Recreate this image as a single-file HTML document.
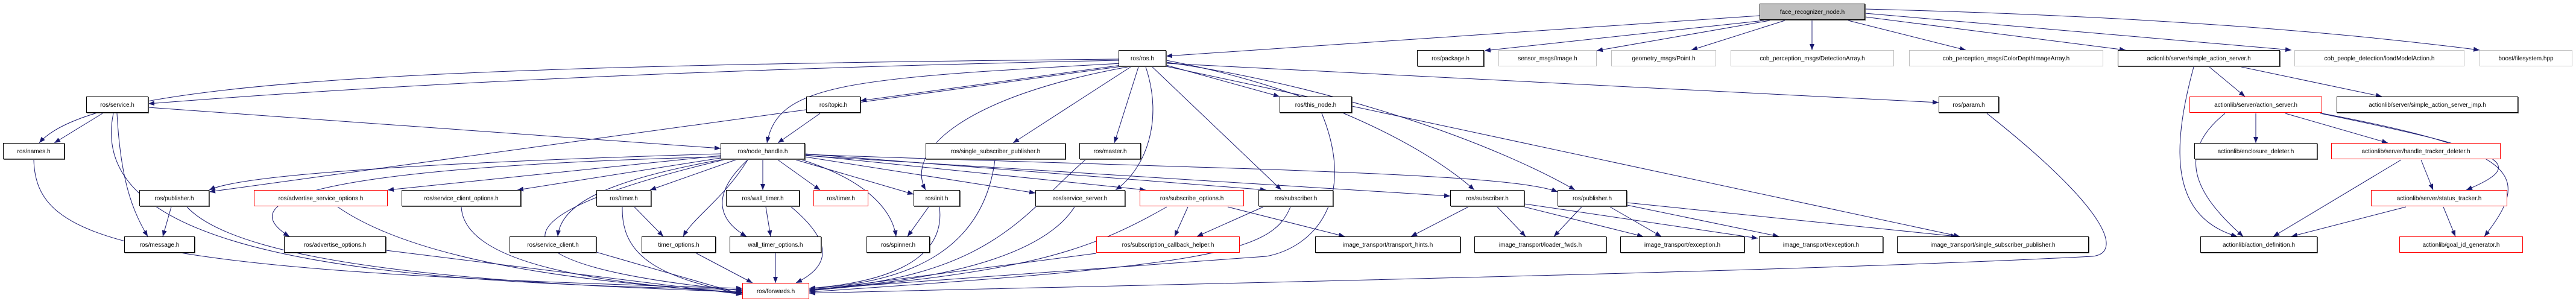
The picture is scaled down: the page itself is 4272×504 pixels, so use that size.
<!DOCTYPE html>
<html><head><meta charset="utf-8"><style>
body{margin:0;width:4272px;height:504px;background:#fff;position:relative;overflow:hidden;font-family:"Liberation Sans",sans-serif}
svg{position:absolute;left:0;top:0}
.n{position:absolute;height:27px;line-height:27px;font-size:10px;text-align:center;background:#fff;border:1px solid #000;box-sizing:border-box;white-space:nowrap;color:#000;box-shadow:1px 1px 0 #555}
.g{border-color:#bfbfbf;box-shadow:none}
.r{border-color:#f00;box-shadow:none}
.f{background:#bfbfbf}
</style></head><body>
<svg width="4272" height="504" viewBox="0 0 4272 504">
<defs><marker id="a" markerUnits="userSpaceOnUse" markerWidth="10" markerHeight="8" refX="10" refY="4" orient="auto"><path d="M0,0 L10,4 L0,8 z" fill="#191970"/></marker></defs>
<g fill="none" stroke="#191970" stroke-width="1" marker-end="url(#a)">
<path d="M2918 26 Q2400 60 1934 93"/>
<path d="M2925 34 L2462 84"/>
<path d="M2935 34 L2648 84"/>
<path d="M2960 34 L2805 83"/>
<path d="M3005 34 L3005 83"/>
<path d="M3065 34 L3260 83"/>
<path d="M3093 28 L3525 83"/>
<path d="M3093 22 L3800 83"/>
<path d="M3093 15 Q3700 30 4112 83"/>
<path d="M1855 100 Q900 120 246 172"/>
<path d="M1855 98 C600 110,150 140,65 237"/>
<path d="M1860 105 C1400 130,1290 140,1272 237"/>
<path d="M1860 108 L1427 167"/>
<path d="M1860 110 L347 318"/>
<path d="M1875 111 L1680 237"/>
<path d="M1888 111 L1848 237"/>
<path d="M1870 111 C1600 160,1500 250,1535 315"/>
<path d="M1900 111 C1930 200,1900 280,1850 315"/>
<path d="M1911 111 L2125 315"/>
<path d="M1934 100 C2150 140,2350 230,2445 315"/>
<path d="M1934 103 C2250 150,2500 250,2612 315"/>
<path d="M1934 108 L2122 160"/>
<path d="M1934 110 L3250 392"/>
<path d="M1934 105 L3215 170"/>
<path d="M170 188 L90 237"/>
<path d="M194 188 C200 300,220 350,245 392"/>
<path d="M188 188 C140 420,600 470,1231 480"/>
<path d="M246 178 L1195 246"/>
<path d="M56 265 C60 400,200 450,1231 478"/>
<path d="M1360 188 L1290 237"/>
<path d="M1195 255 C700 270,400 290,347 315"/>
<path d="M1195 258 L643 315"/>
<path d="M1195 262 L858 315"/>
<path d="M1220 265 L1078 315"/>
<path d="M1195 260 C800 270,330 300,480 392"/>
<path d="M1195 265 C1000 300,930 340,925 392"/>
<path d="M1200 265 C800 360,800 440,1231 482"/>
<path d="M1240 265 C1200 330,1150 360,1133 392"/>
<path d="M1265 265 L1265 315"/>
<path d="M1240 265 C1170 330,1200 370,1238 392"/>
<path d="M1290 265 L1360 315"/>
<path d="M1330 265 C1440 300,1480 350,1486 392"/>
<path d="M1320 265 L1515 322"/>
<path d="M1335 260 L1717 320"/>
<path d="M1335 257 L1900 315"/>
<path d="M1335 255 L2100 315"/>
<path d="M1335 258 L2405 325"/>
<path d="M1335 256 C2000 280,2500 285,2583 318"/>
<path d="M1650 265 C1630 420,1500 470,1342 478"/>
<path d="M1800 265 C1700 350,1650 460,1342 480"/>
<path d="M284 343 L270 392"/>
<path d="M310 343 C400 440,800 470,1231 484"/>
<path d="M560 343 C700 440,1000 470,1231 485"/>
<path d="M765 343 C770 440,1000 470,1231 486"/>
<path d="M640 415 L1231 488"/>
<path d="M989 418 L1231 488"/>
<path d="M1052 343 L1100 392"/>
<path d="M1032 343 C1030 430,1100 460,1231 488"/>
<path d="M1270 343 L1278 392"/>
<path d="M1312 343 C1380 400,1380 440,1320 469"/>
<path d="M1155 420 L1248 469"/>
<path d="M1286 420 L1286 469"/>
<path d="M1540 343 L1505 392"/>
<path d="M1558 343 C1570 440,1450 470,1342 478"/>
<path d="M1782 343 C1720 440,1500 470,1342 480"/>
<path d="M1970 343 L1948 392"/>
<path d="M1935 343 C1800 420,1700 450,1342 482"/>
<path d="M2036 343 L2230 392"/>
<path d="M2095 343 L1985 392"/>
<path d="M2140 343 C2110 420,2000 440,1342 484"/>
<path d="M1818 420 L1342 482"/>
<path d="M2192 188 C2250 330,2180 410,2100 425 L1342 480"/>
<path d="M3295 188 C3500 350,3520 420,3470 425 C3000 450,2000 470,1342 486"/>
<path d="M2435 343 L2340 392"/>
<path d="M2483 343 L2530 392"/>
<path d="M2528 343 L2725 392"/>
<path d="M2528 338 L2915 395"/>
<path d="M2623 343 L2577 392"/>
<path d="M2670 343 L2755 392"/>
<path d="M2698 340 L2950 392"/>
<path d="M2698 336 L3245 392"/>
<path d="M3664 111 L3723 160"/>
<path d="M3717 111 L3950 160"/>
<path d="M3638 111 C3600 250,3600 360,3710 392"/>
<path d="M3741 188 L3741 237"/>
<path d="M3790 188 L3960 237"/>
<path d="M3848 188 C4150 250,4200 270,4090 315"/>
<path d="M3851 188 C4180 250,4200 290,4120 392"/>
<path d="M3690 188 C3600 260,3650 330,3720 392"/>
<path d="M4015 265 L4035 315"/>
<path d="M3982 265 L3770 392"/>
<path d="M3990 343 L3800 392"/>
<path d="M4052 343 L4072 392"/>
</g></svg>
<div class="n f" style="left:2918px;top:6px;width:175px">face_recognizer_node.h</div>
<div class="n" style="left:1855px;top:83px;width:79px">ros/ros.h</div>
<div class="n" style="left:2350px;top:83px;width:111px">ros/package.h</div>
<div class="n g" style="left:2485px;top:83px;width:163px">sensor_msgs/Image.h</div>
<div class="n g" style="left:2672px;top:83px;width:174px">geometry_msgs/Point.h</div>
<div class="n g" style="left:2870px;top:83px;width:271px">cob_perception_msgs/DetectionArray.h</div>
<div class="n g" style="left:3166px;top:83px;width:322px">cob_perception_msgs/ColorDepthImageArray.h</div>
<div class="n" style="left:3512px;top:83px;width:269px">actionlib/server/simple_action_server.h</div>
<div class="n g" style="left:3805px;top:83px;width:282px">cob_people_detection/loadModelAction.h</div>
<div class="n g" style="left:4112px;top:83px;width:154px">boost/filesystem.hpp</div>
<div class="n" style="left:143px;top:160px;width:103px">ros/service.h</div>
<div class="n" style="left:1337px;top:160px;width:90px">ros/topic.h</div>
<div class="n" style="left:2122px;top:160px;width:120px">ros/this_node.h</div>
<div class="n" style="left:3215px;top:160px;width:100px">ros/param.h</div>
<div class="n r" style="left:3631px;top:160px;width:220px">actionlib/server/action_server.h</div>
<div class="n" style="left:3875px;top:160px;width:301px">actionlib/server/simple_action_server_imp.h</div>
<div class="n" style="left:5px;top:237px;width:102px">ros/names.h</div>
<div class="n" style="left:1195px;top:237px;width:140px">ros/node_handle.h</div>
<div class="n" style="left:1535px;top:237px;width:232px">ros/single_subscriber_publisher.h</div>
<div class="n" style="left:1790px;top:237px;width:102px">ros/master.h</div>
<div class="n" style="left:3639px;top:237px;width:204px">actionlib/enclosure_deleter.h</div>
<div class="n r" style="left:3866px;top:237px;width:281px">actionlib/server/handle_tracker_deleter.h</div>
<div class="n" style="left:231px;top:315px;width:116px">ros/publisher.h</div>
<div class="n r" style="left:421px;top:315px;width:222px">ros/advertise_service_options.h</div>
<div class="n" style="left:666px;top:315px;width:198px">ros/service_client_options.h</div>
<div class="n" style="left:989px;top:315px;width:91px">ros/timer.h</div>
<div class="n" style="left:1204px;top:315px;width:122px">ros/wall_timer.h</div>
<div class="n r" style="left:1349px;top:315px;width:91px">ros/timer.h</div>
<div class="n" style="left:1515px;top:315px;width:77px">ros/init.h</div>
<div class="n" style="left:1717px;top:315px;width:149px">ros/service_server.h</div>
<div class="n r" style="left:1890px;top:315px;width:173px">ros/subscribe_options.h</div>
<div class="n" style="left:2087px;top:315px;width:124px">ros/subscriber.h</div>
<div class="n" style="left:2405px;top:315px;width:123px">ros/subscriber.h</div>
<div class="n" style="left:2583px;top:315px;width:115px">ros/publisher.h</div>
<div class="n r" style="left:3932px;top:315px;width:226px">actionlib/server/status_tracker.h</div>
<div class="n" style="left:206px;top:392px;width:117px">ros/message.h</div>
<div class="n" style="left:471px;top:392px;width:169px">ros/advertise_options.h</div>
<div class="n" style="left:845px;top:392px;width:144px">ros/service_client.h</div>
<div class="n" style="left:1064px;top:392px;width:123px">timer_options.h</div>
<div class="n" style="left:1210px;top:392px;width:152px">wall_timer_options.h</div>
<div class="n" style="left:1437px;top:392px;width:105px">ros/spinner.h</div>
<div class="n r" style="left:1818px;top:392px;width:238px">ros/subscription_callback_helper.h</div>
<div class="n" style="left:2181px;top:392px;width:241px">image_transport/transport_hints.h</div>
<div class="n" style="left:2445px;top:392px;width:219px">image_transport/loader_fwds.h</div>
<div class="n" style="left:2687px;top:392px;width:206px">image_transport/exception.h</div>
<div class="n" style="left:2917px;top:392px;width:206px">image_transport/exception.h</div>
<div class="n" style="left:3146px;top:392px;width:318px">image_transport/single_subscriber_publisher.h</div>
<div class="n" style="left:3649px;top:392px;width:194px">actionlib/action_definition.h</div>
<div class="n r" style="left:3979px;top:392px;width:205px">actionlib/goal_id_generator.h</div>
<div class="n r" style="left:1231px;top:469px;width:111px">ros/forwards.h</div>
</body></html>
